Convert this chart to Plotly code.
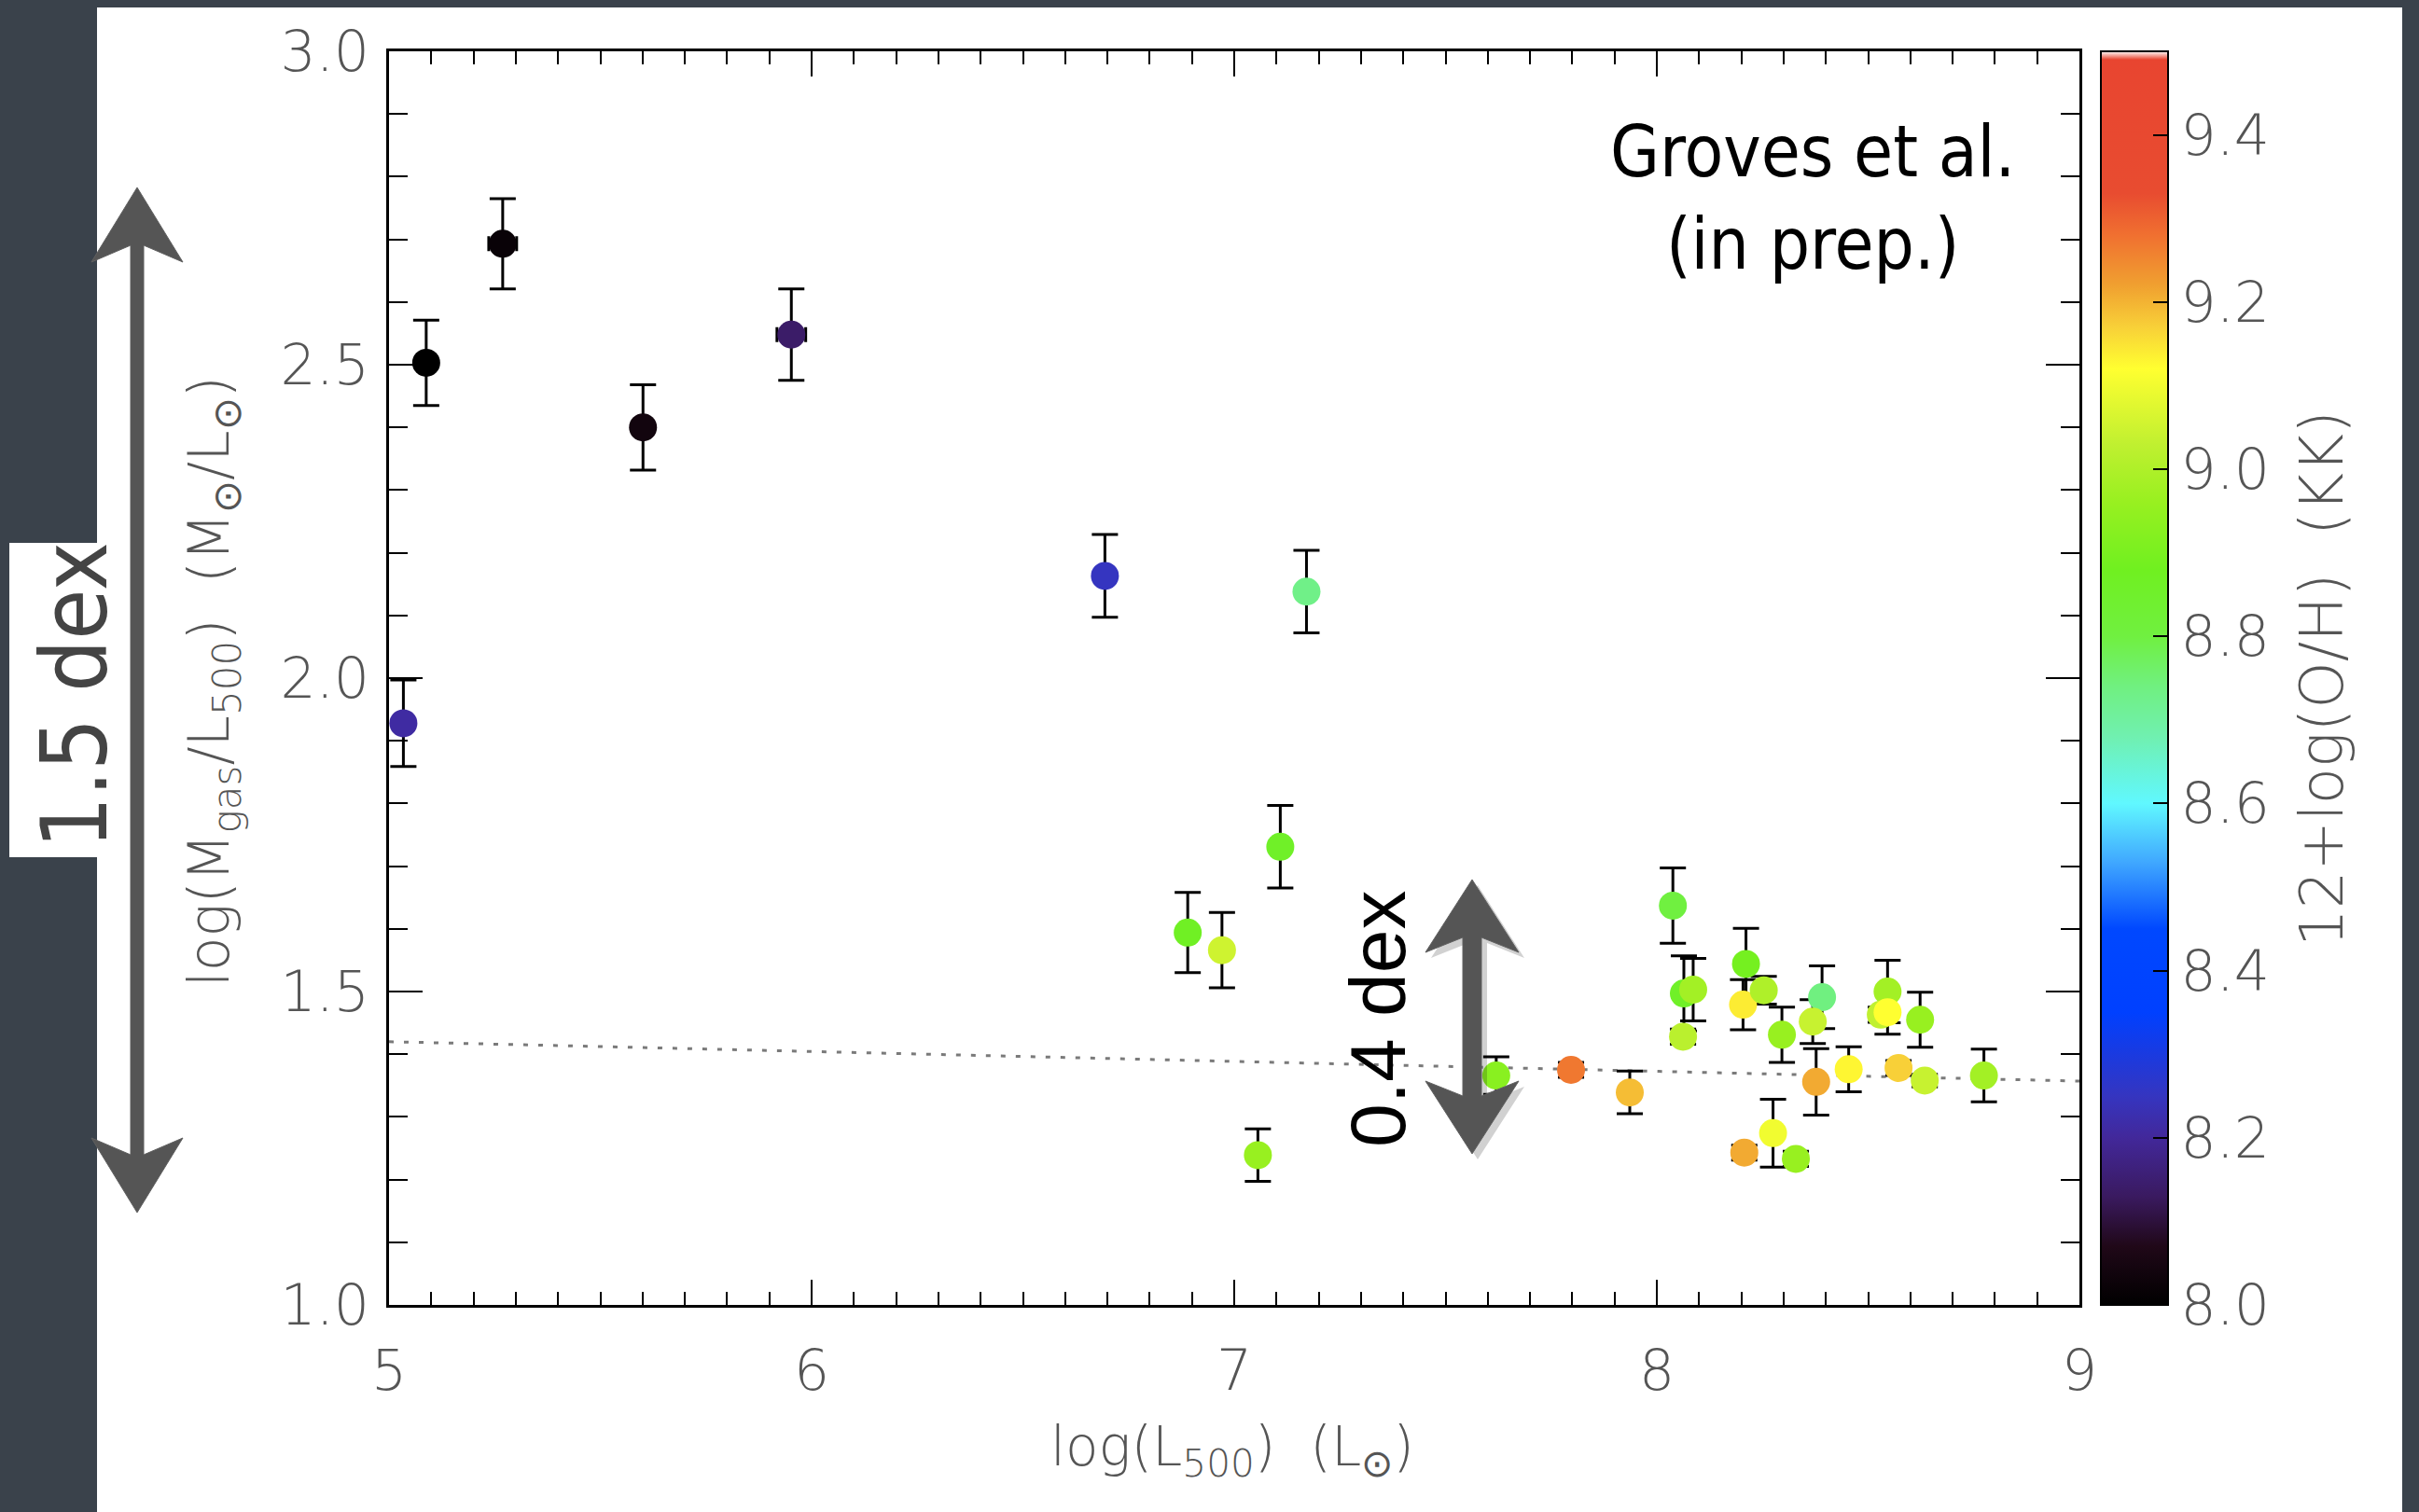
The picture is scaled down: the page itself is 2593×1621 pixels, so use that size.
import plotly.graph_objects as go

# ---------------- data ----------------
log_L500 = [5.034, 5.088, 5.269, 5.601, 5.952, 6.694, 7.171, 7.109, 6.890, 6.971,
            7.056, 7.620, 7.797, 7.936, 8.038, 8.064, 8.086, 8.062, 8.211, 8.204,
            8.253, 8.296, 8.391, 8.369, 8.377, 8.454, 8.546, 8.530, 8.546, 8.623,
            8.572, 8.634, 8.774, 8.275, 8.207, 8.329]
log_Mgas_L500 = [1.928, 2.503, 2.693, 2.400, 2.548, 2.163, 2.138, 1.731, 1.594, 1.566,
                 1.239, 1.366, 1.375, 1.339, 1.637, 1.497, 1.503, 1.428, 1.544, 1.479,
                 1.502, 1.431, 1.491, 1.452, 1.356, 1.376, 1.500, 1.463, 1.467, 1.455,
                 1.378, 1.358, 1.366, 1.274, 1.243, 1.233]
err_y = [0.069, 0.068, 0.072, 0.068, 0.073, 0.066, 0.066, 0.066, 0.064, 0.060,
         0.042, 0.030, 0.012, 0.034, 0.060, 0.060, 0.050, 0.012, 0.057, 0.040,
         0.022, 0.044, 0.050, 0.035, 0.053, 0.036, 0.050, 0.012, 0.035, 0.044,
         0.012, 0.010, 0.042, 0.054, 0.012, 0.012]
err_x = [0.0, 0.0, 0.033, 0.0, 0.034, 0.0, 0.0, 0.0, 0.0, 0.0,
         0.0, 0.0, 0.0, 0.0, 0.0, 0.0, 0.0, 0.0, 0.0, 0.0,
         0.0, 0.0, 0.0, 0.0, 0.0, 0.0, 0.0, 0.0, 0.0, 0.0,
         0.0, 0.0, 0.0, 0.0, 0.0, 0.0]
oh_KK = [8.21, 8.00, 8.02, 8.04, 8.14, 8.25, 8.73, 8.86, 8.87, 9.05,
         8.96, 8.93, 9.27, 9.19, 8.80, 8.86, 8.98, 9.02, 8.89, 9.14,
         9.00, 8.96, 8.74, 9.04, 9.21, 9.13, 8.98, 9.03, 9.12, 8.96,
         9.17, 9.04, 8.98, 9.10, 9.21, 8.96]

fit_x = [5.0, 9.0]
fit_y = [1.420, 1.357]

x_ticks = [5, 6, 7, 8, 9]
y_ticks = [1.0, 1.5, 2.0, 2.5, 3.0]
cb_ticks = [8.0, 8.2, 8.4, 8.6, 8.8, 9.0, 9.2, 9.4]
cb_minor = [8.1, 8.3, 8.5, 8.7, 8.9, 9.1, 9.3]

# colour table (value, colour)
cmap_vals = [8.00, 8.07, 8.13, 8.20, 8.25, 8.30, 8.35, 8.45, 8.53, 8.60, 8.68, 8.74,
             8.80, 8.88, 8.96, 9.03, 9.12, 9.17, 9.22, 9.28, 9.33, 9.49, 9.50]
cmap_cols = ["#000000", "#200818", "#3a1a60", "#42289a", "#3535c0", "#1a3ae0",
             "#0040ff", "#0048ff", "#40a8ff", "#60f8ff", "#70f0b0", "#70f080",
             "#70f040", "#70f020", "#98f020", "#c0f030", "#ffff30", "#f8d038",
             "#f0a030", "#f07030", "#e84c30", "#e84530", "#ffffff"]
CMIN, CMAX = 8.0, 9.5
colorscale = [[(v - CMIN) / (CMAX - CMIN), c] for v, c in zip(cmap_vals, cmap_cols)]

# ---------------- geometry ----------------
W, H = 2593, 1621
L, R, T, B = 417, 2229, 55, 1399
CB_L, CB_R = 2252, 2324


def px(X):
    return (X - L) / (R - L)


def py(Y):
    return (B - Y) / (B - T)


TICKFONT = dict(family="DejaVu Sans", size=60, color="#555555", weight=300)
TITLEFONT = dict(family="DejaVu Sans", size=60, color="#555555", weight=300)

fig = go.Figure()

fig.add_trace(go.Scatter(
    x=fit_x, y=fit_y, mode="lines",
    line=dict(color="#7a7a7a", width=3, dash="5px,11px"),
    hoverinfo="skip", showlegend=False))

fig.add_trace(go.Scatter(
    x=log_L500, y=log_Mgas_L500, mode="markers",
    marker=dict(size=30, color=oh_KK, coloraxis="coloraxis", line=dict(width=0)),
    error_y=dict(type="data", array=err_y, color="black", thickness=3, width=14),
    error_x=dict(type="data", array=err_x, color="black", thickness=3, width=8),
    showlegend=False))

fig.update_layout(
    width=W, height=H,
    margin=dict(l=L, r=W - R, t=T, b=H - B),
    paper_bgcolor="#3a424b",
    plot_bgcolor="white",
    coloraxis=dict(
        cmin=CMIN, cmax=CMAX, colorscale=colorscale,
        colorbar=dict(
            x=px(CB_L), xanchor="left", xpad=0, ypad=0,
            y=0.5, yanchor="middle", len=1, lenmode="fraction",
            thickness=CB_R - CB_L, thicknessmode="pixels",
            outlinecolor="black", outlinewidth=2,
            tickmode="array", tickvals=cb_ticks, ticktext=["%.1f" % v for v in cb_ticks],
            ticks="inside", ticklen=17, tickwidth=2, tickcolor="black",
            tickfont=TICKFONT, ticklabelposition="outside",
        ),
    ),
    xaxis=dict(
        range=[5, 9], tickvals=x_ticks, ticktext=[str(v) for v in x_ticks],
        ticks="inside", ticklen=27, tickwidth=2, tickcolor="black",
        minor=dict(dtick=0.1, tick0=5, ticks="inside", ticklen=14, tickwidth=2,
                   tickcolor="black", showgrid=False),
        showline=True, linecolor="black", linewidth=3, mirror="ticks",
        showgrid=False, zeroline=False, tickfont=TICKFONT, ticklabelstandoff=16,
    ),
    yaxis=dict(
        range=[1, 3], tickvals=y_ticks, ticktext=["%.1f" % v for v in y_ticks],
        ticks="inside", ticklen=36, tickwidth=2, tickcolor="black",
        minor=dict(dtick=0.1, tick0=1, ticks="inside", ticklen=20, tickwidth=2,
                   tickcolor="black", showgrid=False),
        showline=True, linecolor="black", linewidth=3, mirror="ticks",
        showgrid=False, zeroline=False, tickfont=TICKFONT, ticklabelstandoff=6,
    ),
)

shapes = []
# white panel
shapes.append(dict(type="rect", xref="paper", yref="paper", layer="below",
                   x0=px(104), x1=px(2575), y0=py(H + 5), y1=py(8),
                   fillcolor="white", line=dict(width=0)))
# white box of "1.5 dex"
shapes.append(dict(type="rect", xref="paper", yref="paper", layer="below",
                   x0=px(10), x1=px(106), y0=py(919), y1=py(582),
                   fillcolor="white", line=dict(width=0)))
# intermediate colour-bar ticks
for v in cb_minor:
    yy = (v - CMIN) / (CMAX - CMIN)
    shapes.append(dict(type="line", xref="paper", yref="paper", layer="above",
                       x0=px(CB_R - 17), x1=px(CB_R), y0=yy, y1=yy,
                       line=dict(color="black", width=2)))


def arrow_path(cx, top, bottom, head_len, half_head, half_shaft, notch):
    pts = [
        (cx, top),
        (cx + half_head, top + head_len),
        (cx + half_shaft, top + head_len - notch),
        (cx + half_shaft, bottom - head_len + notch),
        (cx + half_head, bottom - head_len),
        (cx, bottom),
        (cx - half_head, bottom - head_len),
        (cx - half_shaft, bottom - head_len + notch),
        (cx - half_shaft, top + head_len - notch),
        (cx - half_head, top + head_len),
    ]
    return "M " + " L ".join("%.5f,%.5f" % (px(a), py(b)) for a, b in pts) + " Z"


# big double arrow (1.5 dex)
shapes.append(dict(type="path", xref="paper", yref="paper", layer="above",
                   path=arrow_path(147, 201, 1300, 80, 49, 7, 18),
                   fillcolor="#555555", line=dict(color="#606060", width=1)))
# small double arrow (0.4 dex) with soft shadow
shapes.append(dict(type="path", xref="paper", yref="paper", layer="above",
                   path=arrow_path(1584, 949, 1243, 78, 50, 10, 16),
                   fillcolor="rgba(0,0,0,0.18)", line=dict(width=0)))
shapes.append(dict(type="path", xref="paper", yref="paper", layer="above",
                   path=arrow_path(1578, 943, 1237, 78, 50, 10, 16),
                   fillcolor="#555555", line=dict(color="#606060", width=1)))
fig.update_layout(shapes=shapes)

ann = []
ann.append(dict(xref="paper", yref="paper", x=px(1943), y=py(212),
                text="Groves et al.<br>(in prep.)", showarrow=False, align="center",
                xanchor="center", yanchor="middle",
                font=dict(family="Liberation Sans Narrow, DejaVu Sans Condensed, sans-serif",
                          size=76, color="black")))
ann.append(dict(xref="paper", yref="paper", x=px(1477), y=py(1092),
                text="0.4 dex", showarrow=False, textangle=-90,
                xanchor="center", yanchor="middle",
                font=dict(family="Liberation Sans, Arial, sans-serif", size=84, color="black")))
ann.append(dict(xref="paper", yref="paper", x=px(80), y=py(746),
                text="1.5 dex", showarrow=False, textangle=-90,
                xanchor="center", yanchor="middle",
                font=dict(family="Liberation Sans Narrow, DejaVu Sans Condensed, sans-serif",
                          size=98, color="#444444")))
ann.append(dict(xref="paper", yref="paper", x=px(228), y=py(731),
                text="log(M<sub>gas</sub>/L<sub>500</sub>)  (M<sub>⊙</sub>/L<sub>⊙</sub>)",
                showarrow=False, textangle=-90, xanchor="center", yanchor="middle",
                font=TITLEFONT))
ann.append(dict(xref="paper", yref="paper", x=px(1321), y=py(1555),
                text="log(L<sub>500</sub>)  (L<sub>⊙</sub>)",
                showarrow=False, xanchor="center", yanchor="middle",
                font=dict(family="DejaVu Sans", size=58, color="#555555", weight=300)))
ann.append(dict(xref="paper", yref="paper", x=px(2489), y=py(728),
                text="12+log(O/H)  (KK)",
                showarrow=False, textangle=-90, xanchor="center", yanchor="middle",
                font=dict(family="DejaVu Sans", size=64, color="#555555", weight=300)))
fig.update_layout(annotations=ann)

fig.write_html("out.html")
